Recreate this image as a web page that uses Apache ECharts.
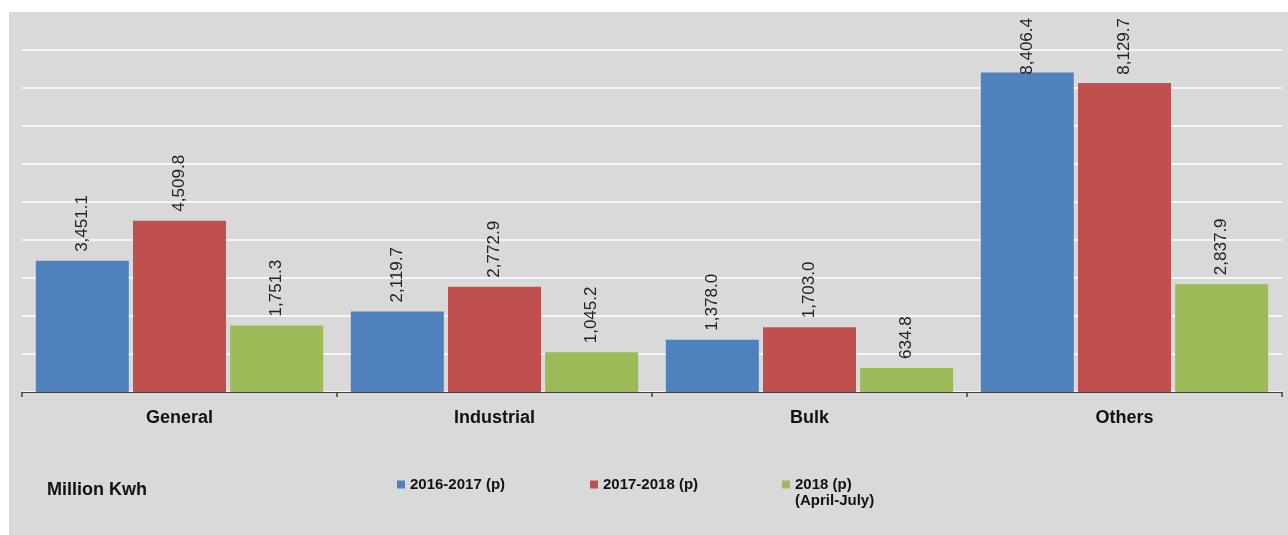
<!DOCTYPE html>
<html>
<head>
<meta charset="utf-8">
<script src="https://cdn.jsdelivr.net/npm/echarts@6/dist/echarts.min.js"></script>
<style>
  html, body { margin: 0; padding: 0; background: #fff; }
  #chart { position: absolute; left: 9px; top: 12px; width: 1279px; height: 523px; background: #d9d9d9; }
</style>
</head>
<body>
<div id="chart"></div>
<script>
var categories = ['General', 'Industrial', 'Bulk', 'Others'];
var seriesNames = ['2016-2017 (p)', '2017-2018 (p)', '2018 (p)'];
var v2016 = [3451.1, 2119.7, 1378.0, 8406.4];
var v2017 = [4509.8, 2772.9, 1703.0, 8129.7];
var v2018 = [1751.3, 1045.2, 634.8, 2837.9];
var colors = ['#4f81bd', '#c0504d', '#9bbb59'];
var font = '"Liberation Sans", Arial, sans-serif';
var labelDist = 9;
var labelSize = 17;

var myChart = echarts.init(document.getElementById('chart'));

function fmt(v) {
    return v.toLocaleString('en-US', { minimumFractionDigits: 1, maximumFractionDigits: 1 });
}

function makeSeries(name, data) {
    return {
        name: name,
        type: 'bar',
        data: data,
        barWidth: 93,
        barGap: '4.5%',
        label: {
            show: true,
            position: 'top',
            rotate: 90,
            align: 'left',
            verticalAlign: 'middle',
            distance: labelDist,
            color: '#222',
            fontFamily: font,
            fontSize: labelSize,
            formatter: function (p) { return fmt(p.value); }
        }
    };
}

function legendAt(name, left) {
    return {
        data: [name],
        left: left,
        top: 465,
        padding: 0,
        icon: 'rect',
        itemWidth: 8,
        itemHeight: 8,
        textStyle: { fontFamily: font, fontSize: 15, fontWeight: 'bold', color: '#111' }
    };
}

var option = {
    color: colors,
    animation: false,
    grid: { left: 13, right: 6, top: 38, bottom: 143 },
    legend: [
        legendAt(seriesNames[0], 388),
        legendAt(seriesNames[1], 581),
        legendAt(seriesNames[2], 773)
    ],
    graphic: [
        {
            type: 'text', left: 38, top: 469,
            style: { text: 'Million Kwh', fontFamily: font, fontSize: 18, fontWeight: 'bold', fill: '#111' }
        },
        {
            type: 'text', left: 786, top: 481,
            style: { text: '(April-July)', fontFamily: font, fontSize: 15, fontWeight: 'bold', fill: '#111' }
        }
    ],
    xAxis: {
        type: 'category',
        data: categories,
        axisLine: { lineStyle: { color: '#404040', width: 1 } },
        axisTick: { show: true, length: 5, lineStyle: { color: '#404040', width: 1.5 } },
        axisLabel: { margin: 17, color: '#111', fontFamily: font, fontSize: 18, fontWeight: 'bold' }
    },
    yAxis: {
        type: 'value',
        min: 0,
        max: 9000,
        interval: 1000,
        axisLine: { show: false },
        axisTick: { show: false },
        axisLabel: { show: false },
        splitLine: { lineStyle: { color: '#ffffff', width: 1.5 } }
    },
    series: [
        makeSeries(seriesNames[0], v2016),
        makeSeries(seriesNames[1], v2017),
        makeSeries(seriesNames[2], v2018)
    ]
};
myChart.setOption(option);

// labels that would run off the top get pulled down inside, as in the original
var ctx = document.createElement('canvas').getContext('2d');
ctx.font = labelSize + 'px ' + font;
option.series.forEach(function (s) {
    s.data = s.data.map(function (v, i) {
        var barTop = myChart.convertToPixel({ xAxisIndex: 0, yAxisIndex: 0 }, [i, v])[1];
        var len = ctx.measureText(fmt(v)).width;
        if (barTop - labelDist - len >= 6) return v;
        return { value: v, label: { position: ['50%', 6 + len - barTop] } };
    });
});
myChart.setOption(option);
</script>
</body>
</html>
